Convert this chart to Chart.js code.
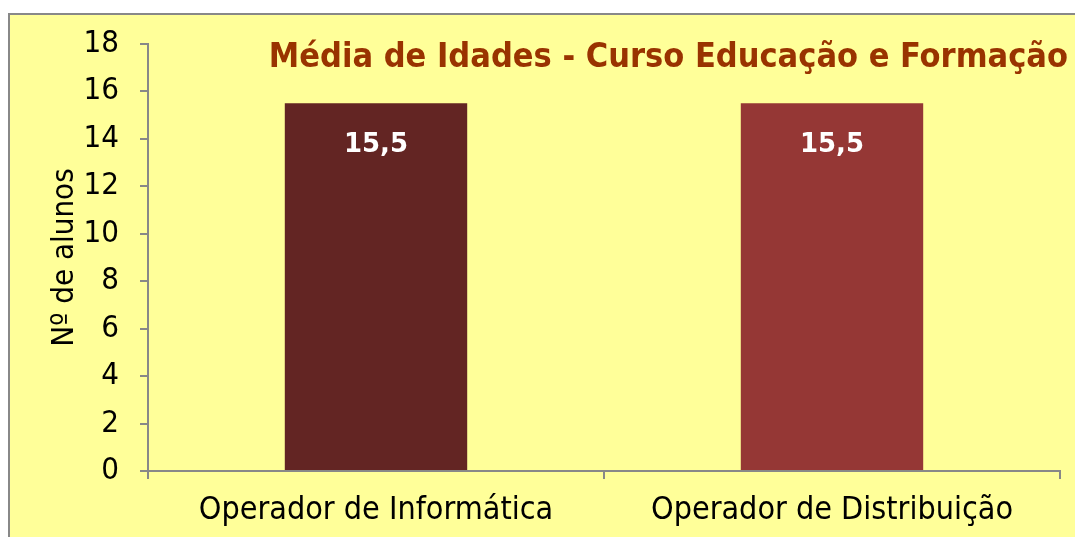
<!DOCTYPE html>
<html>
<head>
<meta charset="utf-8">
<script src="https://cdn.jsdelivr.net/npm/chart.js@4/dist/chart.umd.min.js"></script>
<style>
  html, body { margin: 0; padding: 0; background: #ffffff; }
  #wrap { width: 1075px; height: 537px; }
</style>
</head>
<body>
<div id="wrap"><canvas id="myChart" width="1075" height="537"></canvas></div>
<script>
'use strict';

let categories = ['Operador de Informática', 'Operador de Distribuição'];
let mediaIdades = [15.5, 15.5];
let barColors = ['#632523', '#953735'];
let chartTitle = 'Média de Idades - Curso Educação e Formação';
let yTitle = 'Nº de alunos';

let labelFont = 'DejaVu Sans Condensed, DejaVu Sans, sans-serif';

// yellow panel with grey frame
let panelPlugin = {
  id: 'panel',
  beforeDraw(chart) {
    let ctx = chart.ctx;
    ctx.save();
    ctx.fillStyle = '#ffffff';
    ctx.fillRect(0, 0, chart.width, chart.height);
    ctx.fillStyle = '#ffff99';
    ctx.fillRect(9, 14, chart.width - 9, chart.height - 14);
    ctx.strokeStyle = '#888888';
    ctx.lineWidth = 2;
    ctx.strokeRect(9, 14, chart.width + 10, chart.height + 10);
    ctx.restore();
  }
};

// title sits inside the plot, right aligned
let titlePlugin = {
  id: 'insideTitle',
  afterDraw(chart) {
    let ctx = chart.ctx;
    ctx.save();
    ctx.font = 'bold 34px ' + labelFont;
    ctx.fillStyle = '#993300';
    ctx.textAlign = 'right';
    ctx.textBaseline = 'middle';
    ctx.fillText(chartTitle, chart.chartArea.right + 8, 58);
    ctx.restore();
  }
};

// white values inside the bars
let valuePlugin = {
  id: 'values',
  afterDatasetsDraw(chart) {
    let ctx = chart.ctx;
    let meta = chart.getDatasetMeta(0);
    ctx.save();
    ctx.font = 'bold 26px DejaVu Sans, sans-serif';
    ctx.fillStyle = '#ffffff';
    ctx.textAlign = 'center';
    ctx.textBaseline = 'middle';
    meta.data.forEach(function (bar, i) {
      let txt = mediaIdades[i].toFixed(1).replace('.', ',');
      ctx.fillText(txt, bar.x, bar.y + 42);
    });
    ctx.restore();
  }
};

let ctx = document.getElementById('myChart').getContext('2d');

let chart = new Chart(ctx, {
  type: 'bar',
  data: {
    labels: categories,
    datasets: [
      {
        label: chartTitle,
        data: mediaIdades,
        backgroundColor: barColors,
        borderWidth: 0,
        barPercentage: 0.4,
        categoryPercentage: 1.0
      }
    ]
  },
  options: {
    responsive: false,
    animation: false,
    layout: { padding: { top: 44, right: 15, left: 46, bottom: 0 } },
    plugins: {
      legend: { display: false },
      title: { display: false },
      tooltip: { enabled: false }
    },
    scales: {
      x: {
        grid: { drawOnChartArea: false, drawTicks: true, tickLength: 8, color: '#888888', lineWidth: 2 },
        border: { display: true, color: '#888888', width: 2 },
        ticks: { color: '#000000', padding: 12, font: { family: labelFont, size: 32 } },
        afterFit(scale) { scale.height = 66; }
      },
      y: {
        min: 0,
        max: 18,
        ticks: { stepSize: 2, color: '#000000', padding: 21, font: { family: labelFont, size: 31 } },
        grid: { drawOnChartArea: false, drawTicks: true, tickLength: 8, color: '#888888', lineWidth: 2 },
        border: { display: true, color: '#888888', width: 2 },
        title: { display: true, text: yTitle, color: '#000000', font: { family: labelFont, size: 31 }, padding: 0 },
        afterFit(scale) { scale.width = 102; }
      }
    }
  },
  plugins: [panelPlugin, titlePlugin, valuePlugin]
});
</script>
</body>
</html>
